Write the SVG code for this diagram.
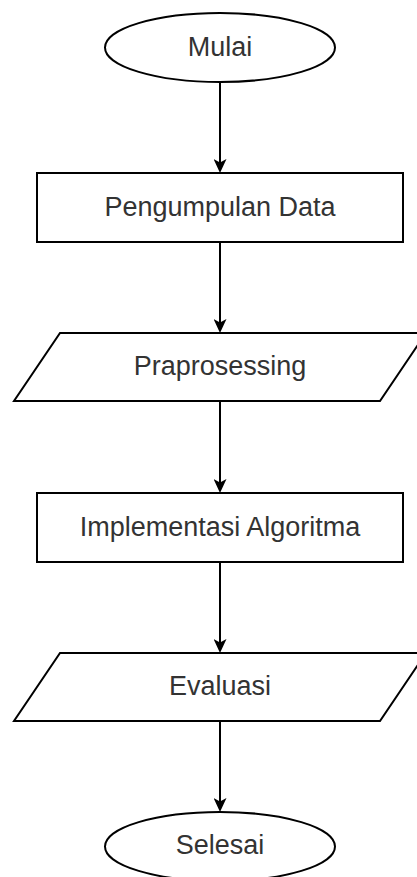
<svg xmlns="http://www.w3.org/2000/svg" width="417" height="877" viewBox="0 0 417 877">
  <style>
    .shape { fill: #ffffff; stroke: #000000; stroke-width: 2; }
    .label { font-family: "Liberation Sans", Arial, Helvetica, sans-serif; font-size: 27px; fill: #333333; text-anchor: middle; }
    .edge { fill: none; stroke: #000000; stroke-width: 2; marker-end: url(#arrow); }
  </style>
  <defs>
    <marker id="arrow" viewBox="0 0 14 13" refX="8" refY="6.5" markerWidth="14" markerHeight="13" markerUnits="userSpaceOnUse" orient="auto">
      <path d="M0,0 L14,6.5 L0,13 L3.5,6.5 Z" fill="#000000"/>
    </marker>
  </defs>
  <rect x="0" y="0" width="417" height="877" fill="#ffffff"/>

  <g id="connectors">
    <path class="edge" d="M220,82 L220,167"/>
    <path class="edge" d="M220,242 L220,327"/>
    <path class="edge" d="M220,401 L220,487"/>
    <path class="edge" d="M220,562 L220,647"/>
    <path class="edge" d="M220,721 L220,806"/>
  </g>

  <g id="mulai">
    <ellipse class="shape" cx="220" cy="47.5" rx="115" ry="34.5"/>
    <text class="label" x="220" y="56">Mulai</text>
  </g>

  <g id="pengumpulan-data">
    <rect class="shape" x="37" y="173" width="366" height="69"/>
    <text class="label" x="220" y="216">Pengumpulan Data</text>
  </g>

  <g id="praprosessing">
    <polygon class="shape" points="60,333 426,333 380,401 14,401"/>
    <text class="label" x="220" y="375">Praprosessing</text>
  </g>

  <g id="implementasi-algoritma">
    <rect class="shape" x="37" y="493" width="366" height="69"/>
    <text class="label" x="220" y="536">Implementasi Algoritma</text>
  </g>

  <g id="evaluasi">
    <polygon class="shape" points="60,653 426,653 380,721 14,721"/>
    <text class="label" x="220" y="695">Evaluasi</text>
  </g>

  <g id="selesai">
    <ellipse class="shape" cx="220" cy="846.5" rx="115" ry="34.5"/>
    <text class="label" x="220" y="854">Selesai</text>
  </g>
</svg>
